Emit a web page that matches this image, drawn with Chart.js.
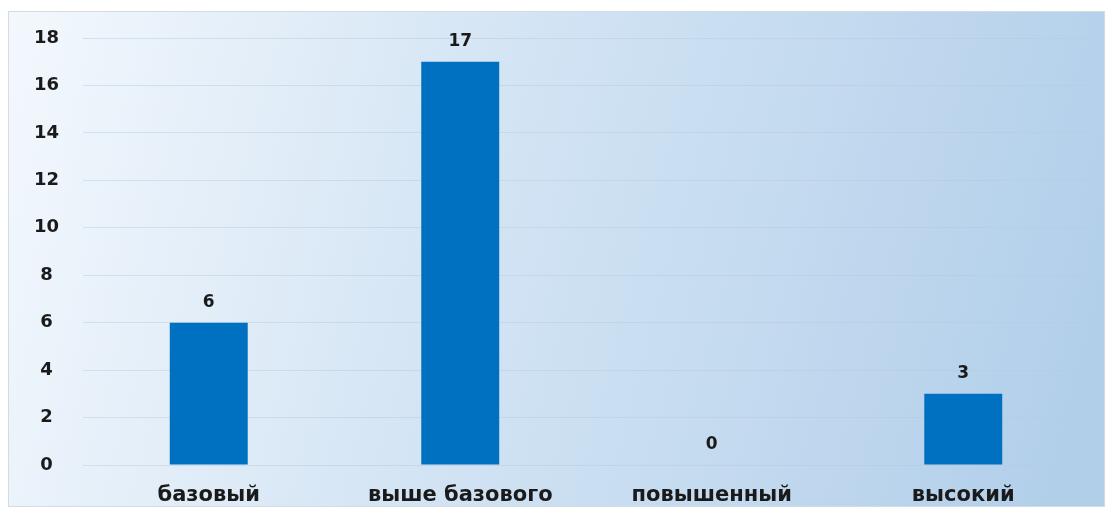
<!DOCTYPE html>
<html>
<head>
<meta charset="utf-8">
<script src="https://cdn.jsdelivr.net/npm/chart.js@4/dist/chart.umd.min.js"></script>
<style>
  html, body { margin: 0; padding: 0; background: #fff; }
  #wrap { width: 1110px; height: 515px; }
</style>
</head>
<body>
<div id="wrap"><canvas id="myChart"></canvas></div>
<script>
const categories = ["базовый", "выше базового", "повышенный", "высокий"];
const values = [6, 17, 0, 3];
const yMin = 0;
const yMax = 18;
const yStep = 2;

const font = "'DejaVu Sans', Verdana, sans-serif";

// panel background with soft gradient
const panelBg = {
  id: "panelBg",
  beforeDraw(chart) {
    const c = chart.ctx;
    c.save();
    const g = c.createLinearGradient(8, 11, 1105, 300);
    g.addColorStop(0, "#f3f8fd");
    g.addColorStop(0.45, "#d3e4f4");
    g.addColorStop(1, "#b2cfea");
    c.fillStyle = g;
    c.fillRect(8, 11, 1097, 496);
    c.strokeStyle = "#d3dbe3";
    c.lineWidth = 1;
    c.strokeRect(8.5, 11.5, 1096, 495);
    c.restore();
  },
};

// value labels above bars
const valueLabels = {
  id: "valueLabels",
  afterDatasetsDraw(chart) {
    const c = chart.ctx;
    const meta = chart.getDatasetMeta(0);
    c.save();
    c.font = "bold 17px " + font;
    c.fillStyle = "#1a1a1a";
    c.textAlign = "center";
    c.textBaseline = "alphabetic";
    meta.data.forEach((bar, i) => {
      c.fillText(values[i], bar.x, bar.y - 16);
    });
    c.restore();
  },
};

const ctx = document.getElementById("myChart");
new Chart(ctx, {
  type: "bar",
  data: {
    labels: categories,
    datasets: [
      {
        data: values,
        backgroundColor: "#0070c0",
        borderWidth: 0,
        categoryPercentage: 1,
        barPercentage: 0.31,
      },
    ],
  },
  options: {
    responsive: true,
    maintainAspectRatio: false,
    animation: false,
    layout: { padding: { left: 8, right: 21, top: 38, bottom: 8 } },
    plugins: {
      legend: { display: false },
      tooltip: { enabled: false },
    },
    scales: {
      x: {
        grid: { display: false },
        border: { display: false },
        ticks: {
          color: "#1a1a1a",
          font: { family: font, size: 21, weight: "bold" },
          padding: 10,
        },
        afterFit(scale) {
          scale.height = 42;
        },
      },
      y: {
        min: yMin,
        max: yMax,
        grid: {
          color: "rgba(185,200,218,0.45)",
          drawTicks: false,
        },
        border: { display: false },
        ticks: {
          stepSize: yStep,
          color: "#1a1a1a",
          crossAlign: "center",
          font: { family: font, size: 18, weight: "bold" },
          padding: 24,
        },
        afterFit(scale) {
          scale.width = 75;
        },
      },
    },
  },
  plugins: [panelBg, valueLabels],
});
</script>
</body>
</html>
